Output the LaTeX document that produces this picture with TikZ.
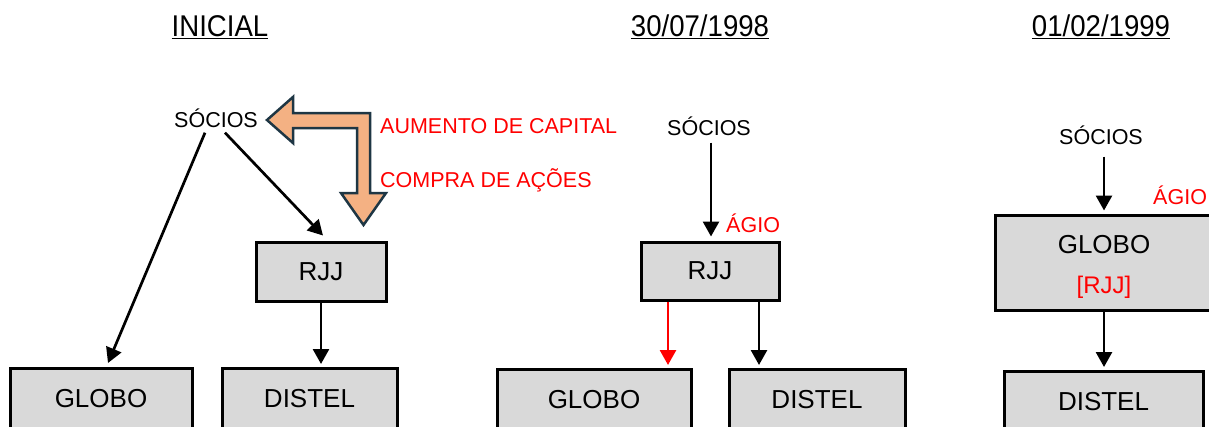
\documentclass[tikz,border=0pt]{standalone}
\usepackage{fontspec}
\setmainfont{Liberation Sans}
\newfontfamily\titlefont[FakeStretch=0.92]{Liberation Sans}
\usetikzlibrary{arrows.meta}
\definecolor{boxgray}{HTML}{D9D9D9}
\definecolor{salmon}{HTML}{F4B183}
\definecolor{edgeblue}{HTML}{1E3644}
\definecolor{redlbl}{HTML}{FF0000}
\begin{document}
\begin{tikzpicture}[x=1pt,y=-1pt,
  box/.style={draw=black,line width=3pt,fill=boxgray,inner sep=0pt,font=\fontsize{26}{30}\selectfont},
  lowbox/.style={box,anchor=north,text height=39pt,text depth=40pt},
  conn/.style={line width=2.7pt,-{Triangle[width=16pt,length=15pt]}},
  lbl/.style={font=\fontsize{21.5}{24}\selectfont,inner sep=0pt,text height=15pt,text depth=0pt},
  redtxt/.style={lbl,text=redlbl,anchor=west},
  ttl/.style={font=\titlefont\fontsize{30}{34}\selectfont,inner sep=0pt},
  bigarrow/.style={fill=salmon,draw=edgeblue,line width=2.5pt,line join=miter}
]
\useasboundingbox (0,0) rectangle (1209,426);
\clip (0,0) rectangle (1209,426);

% titles
\node[ttl] (t1) at (220,27) {\underline{INICIAL}};
\node[ttl] (t2) at (700,27) {\underline{30/07/1998}};
\node[ttl] (t3) at (1101,27) {\underline{01/02/1999}};

% ---------- panel 1
\node[lbl] (soc1) at (216,120) {SÓCIOS};
\node[box,minimum width=130pt,minimum height=59pt] (rjj1) at (321,271.5) {RJJ};
\node[lowbox,minimum width=182pt] (globo1) at (101,367) {GLOBO};
\node[lowbox,minimum width=175pt] (distel1) at (309.5,367) {DISTEL};

\draw[conn] ([xshift=-11pt,yshift=-5pt]soc1.south) -- ([xshift=7pt,yshift=4pt]globo1.north);
\draw[conn] ([xshift=9pt,yshift=-5pt]soc1.south) -- ([xshift=2pt,yshift=5pt]rjj1.north);
\draw[conn] (rjj1.south) -- ([yshift=3pt]rjj1.south |- distel1.north);

\path[bigarrow] (267,120) -- (293,97) -- (293,113) -- (370,113) -- (370,193) -- (386,193)
  -- (363.5,225) -- (341,193) -- (357,193) -- (357,128) -- (293,128) -- (293,143) -- cycle;
\node[redtxt] (aum) at (380,126) {AUMENTO DE CAPITAL};
\node[redtxt] (comp) at (380,180) {COMPRA DE AÇÕES};

% ---------- panel 2
\node[lbl] (soc2) at (709,128) {SÓCIOS};
\node[box,minimum width=138pt,minimum height=58pt] (rjj2) at (710,271) {RJJ};
\node[lowbox,minimum width=194pt] (globo2) at (594,368) {GLOBO};
\node[lowbox,minimum width=176pt] (distel2) at (817,368) {DISTEL};
\node[redtxt] (agio2) at (726,225) {ÁGIO};

\draw[conn] ([xshift=2pt,yshift=-7pt]soc2.south) -- ([xshift=2pt,yshift=4pt]soc2.south |- rjj2.north);
\draw[conn,draw=redlbl,fill=redlbl] ([xshift=-42pt]rjj2.south) -- ([xshift=-42pt,yshift=3pt]rjj2.south |- globo2.north);
\draw[conn] ([xshift=49pt]rjj2.south) -- ([xshift=49pt,yshift=3pt]rjj2.south |- distel2.north);

% ---------- panel 3
\node[lbl] (soc3) at (1101,137) {SÓCIOS};
\node[box,minimum width=218pt,minimum height=95pt,align=center,font=\fontsize{26}{40}\selectfont] (globo3) at (1104,262.5)
  {\rule{0pt}{27pt}GLOBO\\\textcolor{redlbl}{\fontsize{24}{40}\selectfont[RJJ]}};
\node[lowbox,minimum width=199pt] (distel3) at (1103.5,370) {DISTEL};
\node[redtxt] (agio3) at (1153,197) {ÁGIO};

\draw[conn] ([xshift=3pt,yshift=-12pt]soc3.south) -- ([xshift=3pt,yshift=3pt]soc3.south |- globo3.north);
\draw[conn] (globo3.south) -- ([yshift=3pt]globo3.south |- distel3.north);
\end{tikzpicture}
\end{document}
